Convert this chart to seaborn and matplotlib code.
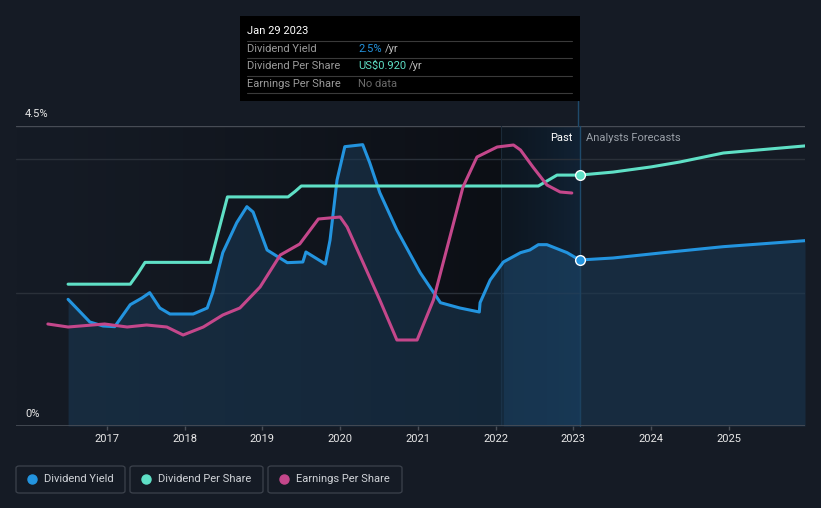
import numpy as np
import pandas as pd
import matplotlib
matplotlib.use("Agg")
import matplotlib.pyplot as plt
from matplotlib.patches import FancyBboxPatch
from matplotlib.lines import Line2D
import seaborn as sns

sns.set_theme(style="dark")
plt.rcParams['font.family'] = ['Roboto', 'DejaVu Sans']

# ---------------- data ----------------
yield_years = [2016.50, 2016.78, 2016.95, 2017.10, 2017.30, 2017.45, 2017.55, 2017.68, 2017.81,
               2018.11, 2018.29, 2018.36, 2018.49, 2018.67, 2018.80, 2018.88, 2019.06, 2019.32,
               2019.52, 2019.56, 2019.81, 2019.87, 2019.96, 2020.06, 2020.29, 2020.38, 2020.51,
               2020.73, 2021.03, 2021.29, 2021.54, 2021.79, 2021.80, 2021.93, 2022.10, 2022.32,
               2022.44, 2022.55, 2022.66, 2022.92, 2023.08]
yield_pct = [1.90, 1.56, 1.50, 1.49, 1.82, 1.92, 2.00, 1.77, 1.68,
             1.68, 1.77, 2.00, 2.60, 3.05, 3.29, 3.21, 2.64, 2.45,
             2.46, 2.61, 2.43, 2.79, 3.69, 4.19, 4.22, 3.95, 3.50,
             2.94, 2.30, 1.85, 1.77, 1.71, 1.85, 2.19, 2.46, 2.60,
             2.64, 2.72, 2.72, 2.60, 2.49]
yield_fc_years = [2023.08, 2023.51, 2024.16, 2024.93, 2025.98]
yield_fc_pct = [2.49, 2.52, 2.60, 2.69, 2.78]

dps_years = [2016.50, 2017.30, 2017.40, 2017.49, 2018.33, 2018.44, 2018.55, 2019.33, 2019.42,
             2019.50, 2022.55, 2022.67, 2022.79, 2023.08]
dps_vals = [0.52, 0.52, 0.56, 0.60, 0.60, 0.72, 0.84, 0.84, 0.86,
            0.88, 0.88, 0.90, 0.92, 0.92]
dps_fc_years = [2023.08, 2023.51, 2024.00, 2024.37, 2024.93, 2025.98]
dps_fc_vals = [0.920, 0.931, 0.950, 0.968, 1.001, 1.027]

eps_years = [2016.24, 2016.50, 2016.97, 2017.26, 2017.51, 2017.77, 2017.98, 2018.24, 2018.49,
             2018.71, 2018.97, 2019.23, 2019.48, 2019.72, 2020.00, 2020.09, 2020.51, 2020.73,
             2020.99, 2021.20, 2021.58, 2021.76, 2022.02, 2022.23, 2022.32, 2022.48, 2022.66,
             2022.83, 2022.98]
eps_vals = [1.02, 0.99, 1.02, 0.99, 1.01, 0.99, 0.91, 0.99, 1.11,
            1.18, 1.39, 1.71, 1.82, 2.07, 2.09, 1.99, 1.26, 0.86,
            0.86, 1.26, 2.39, 2.69, 2.79, 2.81, 2.76, 2.59, 2.41,
            2.34, 2.33]

year_ticks = [2017, 2018, 2019, 2020, 2021, 2022, 2023, 2024, 2025]
series_names = ["Dividend Yield", "Dividend Per Share", "Earnings Per Share"]

# ---------------- style ----------------
BG = "#151b25"
BLUE = "#2394df"
TEAL = "#5fe0c6"
PINK = "#c4478b"
XMIN, XMAX = 2015.83, 2025.98
NOW = 2023.08
BAND_START = 2022.07
FS = 8

W, H = 821, 508
fig = plt.figure(figsize=(W / 100, H / 100), dpi=100, facecolor=BG)
ax = fig.add_axes([16 / W, (H - 426) / H, (805 - 16) / W, 300 / H])
ax.set_facecolor(BG)
ax.set_xlim(XMIN, XMAX)
ax.set_ylim(0, 4.5)

# dark "past" gradient
c0 = np.array(matplotlib.colors.to_rgb(BG))
c1 = np.array(matplotlib.colors.to_rgb("#0c0f15"))
t = np.linspace(0, 1, 256) ** 1.3
grad = (c0[None, :] * (1 - t[:, None]) + c1[None, :] * t[:, None])[None, :, :]
ax.imshow(grad, extent=[XMIN, BAND_START, 0, 4.5], aspect="auto", zorder=0)
# band of last year
c2 = np.array(matplotlib.colors.to_rgb("#0d1620"))
c3 = np.array(matplotlib.colors.to_rgb("#112234"))
grad2 = (c2[None, :] * (1 - t[:, None]) + c3[None, :] * t[:, None])[None, :, :]
ax.imshow(grad2, extent=[BAND_START, NOW, 0, 4.5], aspect="auto", zorder=0)

# grid lines
for yv, col in [(2.0, "#2a3039"), (4.0, "#2a3039"), (4.5, "#474c55")]:
    ax.axhline(yv, color=col, lw=1, zorder=1)
ax.axhline(0, color="#4a4f58", lw=1.2, zorder=5)
ax.axvline(BAND_START, color="#1b2a38", lw=0.8, zorder=1)
ax.plot([NOW, NOW], [0, 4.5], color="#1f4a6b", lw=1, zorder=2, clip_on=False)

# fill under yield
fx = np.array(yield_years + yield_fc_years[1:])
fy = np.array(yield_pct + yield_fc_pct[1:])
ax.fill_between(fx, 0, fy, color="#1a3a56", alpha=0.55, lw=0, zorder=2)
mask = (fx >= BAND_START - 0.05) & (fx <= NOW)
ax.fill_between(fx[mask], 0, fy[mask], color="#1e4f78", alpha=0.3, lw=0, zorder=2)

df_y = pd.DataFrame({"year": yield_years, "v": yield_pct})
df_yf = pd.DataFrame({"year": yield_fc_years, "v": yield_fc_pct})
sns.lineplot(data=df_y, x="year", y="v", ax=ax, color=BLUE, lw=2.2, zorder=6, estimator=None, sort=False)
sns.lineplot(data=df_yf, x="year", y="v", ax=ax, color=BLUE, lw=2.2, zorder=6, estimator=None, sort=False)
ax.plot([NOW], [yield_fc_pct[0]], "o", ms=7, mfc=BLUE, mec="white", mew=1.0, zorder=8)

# DPS axis
ax2 = ax.twinx()
ax2.set_ylim(0, 1.10)
df_d = pd.DataFrame({"year": dps_years, "v": dps_vals})
df_df = pd.DataFrame({"year": dps_fc_years, "v": dps_fc_vals})
sns.lineplot(data=df_d, x="year", y="v", ax=ax2, color=TEAL, lw=2.2, estimator=None, sort=False)
sns.lineplot(data=df_df, x="year", y="v", ax=ax2, color=TEAL, lw=2.2, estimator=None, sort=False)
ax2.plot([NOW], [dps_fc_vals[0]], "o", ms=7, mfc=TEAL, mec="white", mew=1.0, zorder=8)

# EPS axis
ax3 = ax.twinx()
ax3.set_ylim(0, 3.0)
df_e = pd.DataFrame({"year": eps_years, "v": eps_vals})
sns.lineplot(data=df_e, x="year", y="v", ax=ax3, color=PINK, lw=2.2, estimator=None, sort=False)

for a in (ax, ax2, ax3):
    a.set_xlim(XMIN, XMAX)
    for s in a.spines.values():
        s.set_visible(False)
    a.set_xlabel("")
    a.set_ylabel("")
    a.grid(False)
ax2.set_yticks([])
ax3.set_yticks([])
ax2.set_xticks([])
ax3.set_xticks([])
ax.set_yticks([])
ax.set_xticks(year_ticks)
ax.set_xticklabels([str(y) for y in year_ticks], color="#e8e8e8", fontsize=FS)
ax.tick_params(axis="x", length=3, width=1, color="#4a4f58", pad=3, direction="out", bottom=True)

# axis labels
fig.text(25 / W, 1 - 114 / H, "4.5%", color="#e8e8e8", fontsize=FS, va="center", ha="left")
fig.text(25 / W, 1 - 414 / H, "0%", color="#e8e8e8", fontsize=FS, va="center", ha="left")
fig.text(572 / W, 1 - 138 / H, "Past", color="white", fontsize=FS, va="center", ha="right")
fig.text(586 / W, 1 - 138 / H, "Analysts Forecasts", color="#9aa0a8", fontsize=FS, va="center", ha="left")

# tooltip
fig.patches.append(plt.Rectangle((240 / W, 1 - 101 / H), 340 / W, 85 / H, transform=fig.transFigure,
                                 facecolor="black", edgecolor="none", zorder=10))
fig.text(247 / W, 1 - 31 / H, "Jan 29 2023", color="white", fontsize=FS, va="center", zorder=11)
for yy in [41, 58, 76, 93]:
    fig.add_artist(Line2D([247 / W, 572 / W], [1 - yy / H, 1 - yy / H], color="#3a3a3a", lw=0.8, zorder=11))
rows = [("Dividend Yield", "2.5%", BLUE), ("Dividend Per Share", "US$0.920", TEAL),
        ("Earnings Per Share", "No data", "#6a6a6a")]
for (lab, val, col), yy in zip(rows, [49, 66, 84]):
    fig.text(247 / W, 1 - yy / H, lab, color="#9a9a9a", fontsize=FS, va="center", zorder=11)
    tv = fig.text(358 / W, 1 - yy / H, val, color=col, fontsize=FS, va="center", zorder=11)
    if val != "No data":
        fig.canvas.draw()
        bb = tv.get_window_extent()
        fig.text(bb.x1 / W + 3 / W, 1 - yy / H, "/yr", color="#bbbbbb", fontsize=FS, va="center", zorder=11)
fig.add_artist(Line2D([578 / W, 578 / W], [1 - 101 / H, 1 - 126 / H], color="#1f4a6b", lw=1))

# legend boxes
boxes = [(16, 125), (130, 263), (268, 402)]
cols = [BLUE, TEAL, PINK]
for (x0, x1), name, col in zip(boxes, series_names, cols):
    fig.patches.append(FancyBboxPatch((x0 / W, 1 - 493 / H), (x1 - x0) / W, 27 / H,
                                      boxstyle="round,pad=0,rounding_size=0.004",
                                      transform=fig.transFigure, facecolor="none",
                                      edgecolor="#3c424c", lw=0.9))
    fig.add_artist(Line2D([(x0 + 16) / W], [1 - 479 / H], marker="o", ms=6.5, color=col, lw=0))
    fig.text((x0 + 28) / W, 1 - 479 / H, name, color="#d0d3d8", fontsize=FS, va="center")

fig.savefig("out.png", dpi=100, facecolor=BG)
